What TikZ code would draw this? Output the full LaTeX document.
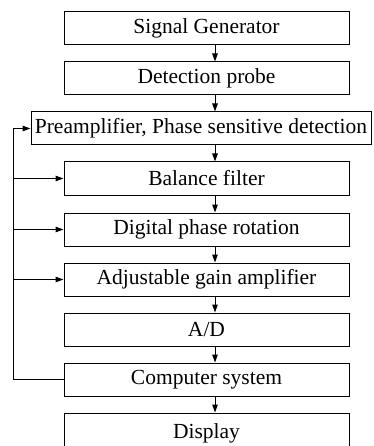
\documentclass[tikz,border=0pt]{standalone}
\usepackage{fontspec}
\setmainfont{Liberation Serif}
\usetikzlibrary{arrows.meta}
\begin{document}
\begin{tikzpicture}[x=1pt,y=-1pt,
  blk/.style={draw=black, line width=1pt, minimum width=285pt, minimum height=33pt,
    inner sep=0pt, font=\fontsize{21.5}{24}\selectfont},
  wideblk/.style={blk, minimum width=340pt},
  arr/.style={line width=1pt, -{Triangle[length=8pt,width=5.5pt]}},
  fbl/.style={line width=1pt}]
\useasboundingbox (0,0) rectangle (373,446);
\clip (0,0) rectangle (373,446);
\node[blk] (sg) at (206.5,28.5) {Signal Generator};
\node[blk] (dp) at (206.5,78.5) {Detection probe};
\node[wideblk] (pa) at (201,128.5) {Preamplifier, Phase sensitive detection};
\node[blk] (bf) at (206.5,178.5) {Balance filter};
\node[blk] (dr) at (206.5,229.5) {Digital phase rotation};
\node[blk] (ag) at (206.5,279.5) {Adjustable gain amplifier};
\node[blk] (ad) at (206.5,329.5) {A/D};
\node[blk] (cs) at (206.5,379.5) {Computer system};
\node[blk, minimum height=40pt] (di) at (206.5,433) {Display};
\coordinate (ax) at (215,0);
\coordinate (fb) at (13,0);
\foreach \a/\b in {sg/dp, dp/pa, pa/bf, bf/dr, dr/ag, ag/ad, ad/cs, cs/di}
  \draw[arr] (\a.south -| ax) -- (\b.north -| ax);
\draw[fbl] (cs.west) -- (cs.west -| fb) -- (pa.west -| fb);
\draw[arr] (pa.west -| fb) -- (pa.west);
\draw[arr] (bf.west -| fb) -- (bf.west);
\draw[arr] (dr.west -| fb) -- (dr.west);
\draw[arr] (ag.west -| fb) -- (ag.west);
\end{tikzpicture}
\end{document}
